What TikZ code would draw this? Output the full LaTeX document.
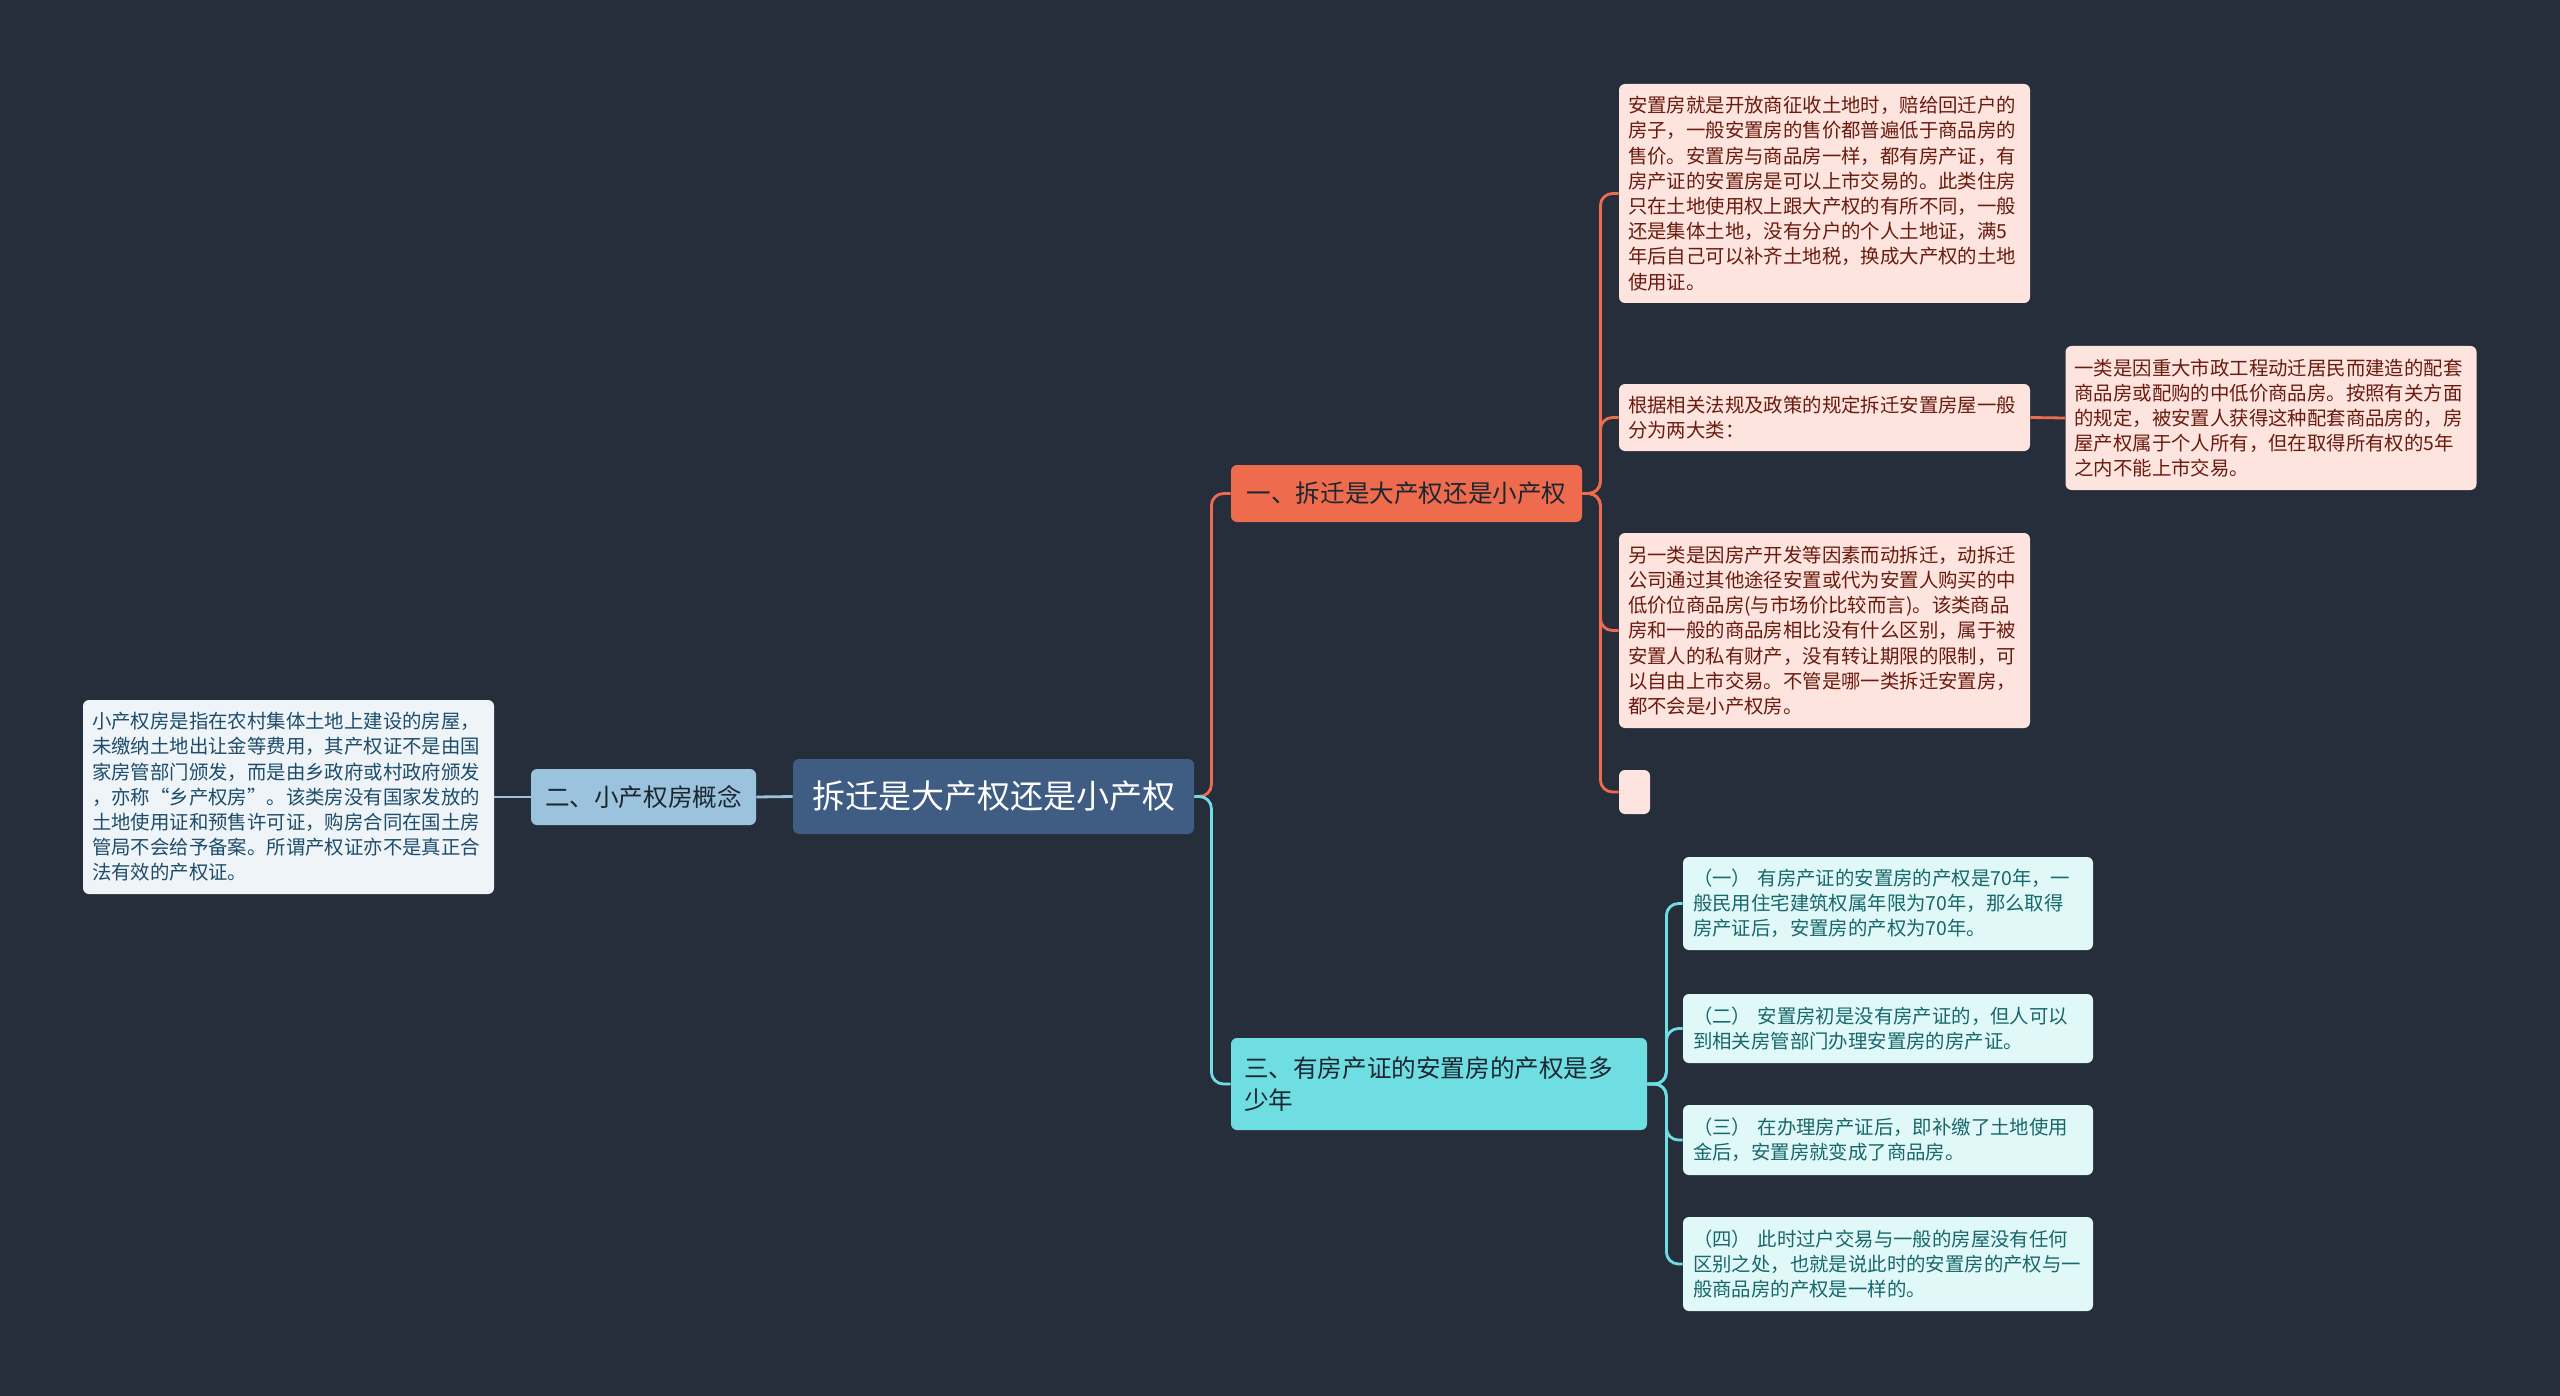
\documentclass[tikz,border=0pt]{standalone}
\usepackage{fontspec}
\setmainfont{Noto Sans CJK SC}
\usetikzlibrary{calc}
\usepackage{xcolor}
\definecolor{bgdark}{HTML}{262E3C}
\definecolor{rootblue}{HTML}{3F5C83}
\definecolor{coral}{HTML}{EE6B4D}
\definecolor{pinkfill}{HTML}{FDE4DE}
\definecolor{pinktext}{HTML}{6A1B0E}
\definecolor{skyfill}{HTML}{9CC3DD}
\definecolor{palefill}{HTML}{EEF4F8}
\definecolor{paletext}{HTML}{1E4D6B}
\definecolor{cyanfill}{HTML}{6EDEE3}
\definecolor{mintfill}{HTML}{E1F8F8}
\definecolor{minttext}{HTML}{16686B}
\definecolor{darktext}{HTML}{1C2630}
\tikzset{
  box/.style={rounded corners=3pt, align=left, inner xsep=4.5pt, inner ysep=3pt},
  rootbox/.style={box, fill=rootblue, text=white, align=center, font=\fontsize{16.5}{20}\selectfont, minimum width=200.5pt, minimum height=37.5pt},
  mainbox/.style={box, text=darktext, align=center, font=\fontsize{12.3}{16.3}\selectfont},
  leafbox/.style={box, font=\fontsize{9.7}{12.6}\selectfont, text width=196.5pt},
  pinkleaf/.style={leafbox, fill=pinkfill, text=pinktext},
  paleleaf/.style={leafbox, fill=palefill, text=paletext},
  mintleaf/.style={leafbox, fill=mintfill, text=minttext, inner xsep=5pt, text width=195pt},
  link/.style={line width=1.4pt, rounded corners=6pt}
}
\begin{document}
\begin{tikzpicture}[x=0.5pt, y=-0.5pt]
  \fill[bgdark] (0,0) rectangle (2560,1396);
  \useasboundingbox (0,0) rectangle (2560,1396);
  % centre and first level
  \node[rootbox] (root) at (993.5,796.5) {拆迁是大产权还是小产权};
  \node[mainbox, fill=coral, minimum width=175.5pt, minimum height=28.5pt] (sub1) at (1406.5,493.5) {一、拆迁是大产权还是小产权};
  \node[mainbox, fill=skyfill, minimum width=112.5pt, minimum height=28pt] (sub2) at (643.5,797) {二、小产权房概念};
  \node[mainbox, fill=cyanfill, align=left, inner xsep=6.5pt, text width=195pt, minimum height=46pt] (sub3) at (1439,1084) {三、有房产证的安置房的产权是多\\少年};
  % left leaf
  \node[paleleaf, minimum height=97pt] (small) at (288.5,797) {小产权房是指在农村集体土地上建设的房屋，\\未缴纳土地出让金等费用，其产权证不是由国\\家房管部门颁发，而是由乡政府或村政府颁发\\，亦称“乡产权房”。该类房没有国家发放的\\土地使用证和预售许可证，购房合同在国土房\\管局不会给予备案。所谓产权证亦不是真正合\\法有效的产权证。};
  % upper right leaves
  \node[pinkleaf, minimum height=109.5pt] (resettle) at (1824.5,193.5) {安置房就是开放商征收土地时，赔给回迁户的\\房子，一般安置房的售价都普遍低于商品房的\\售价。安置房与商品房一样，都有房产证，有\\房产证的安置房是可以上市交易的。此类住房\\只在土地使用权上跟大产权的有所不同，一般\\还是集体土地，没有分户的个人土地证，满5\\年后自己可以补齐土地税，换成大产权的土地\\使用证。};
  \node[pinkleaf, minimum height=33.5pt] (kinds) at (1824.5,417.5) {根据相关法规及政策的规定拆迁安置房屋一般\\分为两大类：};
  \node[pinkleaf, minimum height=72pt] (kindone) at (2271,418) {一类是因重大市政工程动迁居民而建造的配套\\商品房或配购的中低价商品房。按照有关方面\\的规定，被安置人获得这种配套商品房的，房\\屋产权属于个人所有，但在取得所有权的5年\\之内不能上市交易。};
  \node[pinkleaf, minimum height=97.5pt] (kindtwo) at (1824.5,630.5) {另一类是因房产开发等因素而动拆迁，动拆迁\\公司通过其他途径安置或代为安置人购买的中\\低价位商品房(与市场价比较而言)。该类商品\\房和一般的商品房相比没有什么区别，属于被\\安置人的私有财产，没有转让期限的限制，可\\以自由上市交易。不管是哪一类拆迁安置房，\\都不会是小产权房。};
  \node[box, fill=pinkfill, minimum width=15.5pt, minimum height=22pt, inner sep=0pt] (blank) at (1634.5,792) {};
  % lower right leaves
  \node[mintleaf, minimum height=46.5pt] (yearone) at (1888,903.5) {（一） 有房产证的安置房的产权是70年，一\\般民用住宅建筑权属年限为70年，那么取得\\房产证后，安置房的产权为70年。};
  \node[mintleaf, minimum height=34.5pt] (yeartwo) at (1888,1028.5) {（二） 安置房初是没有房产证的，但人可以\\到相关房管部门办理安置房的房产证。};
  \node[mintleaf, minimum height=35pt] (yearthree) at (1888,1140) {（三） 在办理房产证后，即补缴了土地使用\\金后，安置房就变成了商品房。};
  \node[mintleaf, minimum height=47pt] (yearfour) at (1888,1264) {（四） 此时过户交易与一般的房屋没有任何\\区别之处，也就是说此时的安置房的产权与一\\般商品房的产权是一样的。};
  % connectors
  \draw[link, coral] (root.east) -- ($(root.east)+(17,0)$) |- (sub1.west);
  \draw[link, cyanfill] (root.east) -- ($(root.east)+(17,0)$) |- (sub3.west);
  \draw[link, skyfill] (root.west) -- (sub2.east);
  \draw[link, skyfill] (sub2.west) -- (small.east);
  \foreach \leaf in {resettle,kinds,kindtwo,blank}
    \draw[link, coral] (sub1.east) -- ($(sub1.east)+(18,0)$) |- (\leaf.west);
  \draw[link, coral] (kinds.east) -- (kindone.west);
  \foreach \leaf in {yearone,yeartwo,yearthree,yearfour}
    \draw[link, cyanfill] (sub3.east) -- ($(sub3.east)+(19,0)$) |- (\leaf.west);
\end{tikzpicture}
\end{document}
